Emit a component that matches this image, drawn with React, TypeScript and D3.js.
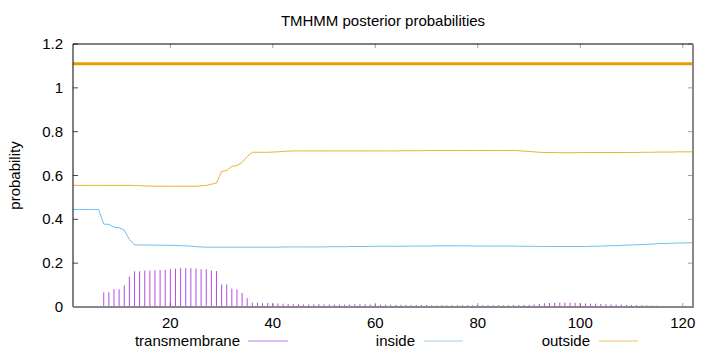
import React from "react";
import * as d3 from "d3";

const title = "TMHMM posterior probabilities";
const yTicks = [0, 0.2, 0.4, 0.6, 0.8, 1, 1.2];
const yTickLabels = ["0", "0.2", "0.4", "0.6", "0.8", "1", "1.2"];
const xTicks = [20, 40, 60, 80, 100, 120];
const seqLength = 122;
const outsideBarLevel = 1.11;

// residues 1..122
const transmembrane = [
  0, 0, 0, 0, 0, 0, 0.067, 0.067, 0.081, 0.081,
  0.098, 0.139, 0.163, 0.163, 0.166, 0.166, 0.168, 0.168, 0.17, 0.172,
  0.175, 0.177, 0.177, 0.177, 0.175, 0.173, 0.172, 0.166, 0.164, 0.103,
  0.103, 0.084, 0.08, 0.064, 0.04, 0.02, 0.02, 0.017, 0.018, 0.016,
  0.016, 0.015, 0.014, 0.013, 0.013, 0.012, 0.012, 0.013, 0.013, 0.012,
  0.012, 0.012, 0.011, 0.011, 0.012, 0.013, 0.013, 0.012, 0.012, 0.011,
  0.011, 0.011, 0.01, 0.01, 0.01, 0.01, 0.009, 0.009, 0.009, 0.009,
  0.008, 0.008, 0.008, 0.008, 0.008, 0.008, 0.008, 0.008, 0.008, 0.008,
  0.008, 0.008, 0.008, 0.008, 0.008, 0.008, 0.009, 0.009, 0.01, 0.01,
  0.012, 0.014, 0.017, 0.018, 0.019, 0.02, 0.02, 0.02, 0.019, 0.017,
  0.016, 0.015, 0.015, 0.014, 0.013, 0.012, 0.011, 0.011, 0.01, 0.009,
  0.009, 0.008, 0.008, 0.007, 0.006, 0.005, 0, 0, 0, 0,
  0, 0,
];

const inside = [
  0.445, 0.445, 0.445, 0.445, 0.445, 0.445, 0.378, 0.377, 0.364, 0.362,
  0.351, 0.308, 0.284, 0.283, 0.283, 0.283, 0.282, 0.282, 0.282, 0.281,
  0.281, 0.28, 0.279, 0.278, 0.275, 0.274, 0.273, 0.273, 0.273, 0.273,
  0.273, 0.273, 0.273, 0.273, 0.273, 0.273, 0.273, 0.273, 0.273, 0.273,
  0.273, 0.274, 0.274, 0.274, 0.274, 0.274, 0.274, 0.274, 0.274, 0.274,
  0.275, 0.275, 0.275, 0.275, 0.276, 0.276, 0.276, 0.276, 0.277, 0.277,
  0.277, 0.277, 0.277, 0.277, 0.277, 0.277, 0.278, 0.278, 0.278, 0.278,
  0.278, 0.279, 0.279, 0.279, 0.279, 0.279, 0.279, 0.279, 0.278, 0.278,
  0.278, 0.278, 0.278, 0.278, 0.278, 0.278, 0.278, 0.277, 0.277, 0.277,
  0.277, 0.276, 0.276, 0.276, 0.276, 0.276, 0.276, 0.276, 0.276, 0.276,
  0.276, 0.277, 0.277, 0.278, 0.279, 0.28, 0.28, 0.281, 0.282, 0.283,
  0.284, 0.285, 0.286, 0.287, 0.289, 0.29, 0.29, 0.291, 0.292, 0.292,
  0.293, 0.293,
];

const outside = [
  0.555, 0.555, 0.555, 0.555, 0.555, 0.555, 0.555, 0.555, 0.555, 0.555,
  0.555, 0.555, 0.554, 0.554, 0.552, 0.552, 0.551, 0.551, 0.551, 0.551,
  0.551, 0.551, 0.551, 0.551, 0.551, 0.553, 0.555, 0.56, 0.566, 0.619,
  0.623, 0.642, 0.645, 0.66, 0.686, 0.706, 0.706, 0.706, 0.706, 0.707,
  0.708, 0.71, 0.711, 0.712, 0.712, 0.712, 0.712, 0.712, 0.712, 0.712,
  0.712, 0.712, 0.712, 0.712, 0.712, 0.712, 0.712, 0.712, 0.712, 0.712,
  0.712, 0.712, 0.712, 0.712, 0.713, 0.713, 0.713, 0.713, 0.713, 0.714,
  0.714, 0.714, 0.714, 0.714, 0.714, 0.714, 0.714, 0.714, 0.714, 0.714,
  0.714, 0.714, 0.714, 0.714, 0.714, 0.714, 0.714, 0.713, 0.711, 0.71,
  0.708, 0.706, 0.705, 0.705, 0.705, 0.704, 0.704, 0.704, 0.704, 0.705,
  0.705, 0.705, 0.705, 0.705, 0.705, 0.705, 0.705, 0.705, 0.705, 0.705,
  0.705, 0.706, 0.706, 0.706, 0.707, 0.707, 0.707, 0.707, 0.708, 0.708,
  0.708, 0.708,
];

const legendLabels = ["transmembrane", "inside", "outside"];

const COLORS = {
  tm: "#9400d3",
  inside: "#56b4e9",
  outside: "#e69f00",
};

const FONT = "'Liberation Sans', Arial, Helvetica, sans-serif";
const FS = 15;

export default function App() {
  const W = 720;
  const H = 352;
  const left = 73;
  const right = 693;
  const top = 44;
  const bottom = 307;

  const x = d3.scaleLinear().domain([1, seqLength]).range([left, right]);
  const y = d3.scaleLinear().domain([0, 1.2]).range([bottom, top]);

  const residues = d3.range(1, seqLength + 1);

  const lineGen = d3
    .line<number>()
    .x((_, i) => x(residues[i]))
    .y((d) => y(d));

  const legendItems = [
    { label: legendLabels[0], color: "#c27ae6", textRight: 240, lineX1: 248, lineX2: 288 },
    { label: legendLabels[1], color: "#9fd2ef", textRight: 415, lineX1: 424, lineX2: 463 },
    { label: legendLabels[2], color: "#f0c46a", textRight: 590, lineX1: 599, lineX2: 638 },
  ];

  return (
    <svg
      width={W}
      height={H}
      style={{ position: "absolute", left: 0, top: 0, background: "#fff" }}
      fontFamily={FONT}
    >
      <rect x={0} y={0} width={W} height={H} fill="#fff" />

      {/* title */}
      <text x={383} y={26} textAnchor="middle" fontSize={FS} fill="#000">
        {title}
      </text>

      {/* y label */}
      <text
        transform={`translate(19.5,${(top + bottom) / 2}) rotate(-90)`}
        textAnchor="middle"
        fontSize={FS}
        fill="#000"
      >
        probability
      </text>

      {/* y ticks */}
      {yTicks.map((t, i) => (
        <g key={"yt" + i}>
          <line x1={left} x2={left + 5} y1={y(t)} y2={y(t)} stroke="#000" strokeWidth={0.7} />
          <line x1={right - 5} x2={right} y1={y(t)} y2={y(t)} stroke="#777" strokeWidth={0.7} />
          <text x={63} y={y(t) + 5} textAnchor="end" fontSize={FS} fill="#000">
            {yTickLabels[i]}
          </text>
        </g>
      ))}

      {/* x ticks */}
      {xTicks.map((t) => (
        <g key={"xt" + t}>
          <line x1={x(t)} x2={x(t)} y1={top} y2={top + 4} stroke="#777" strokeWidth={0.7} />
          <line x1={x(t)} x2={x(t)} y1={bottom - 4} y2={bottom} stroke="#777" strokeWidth={0.7} />
          <text x={x(t)} y={328} textAnchor="middle" fontSize={FS} fill="#000">
            {t}
          </text>
        </g>
      ))}

      {/* transmembrane impulses */}
      {transmembrane.map((v, i) =>
        v > 0 ? (
          <line
            key={"imp" + i}
            x1={x(residues[i])}
            x2={x(residues[i])}
            y1={y(0)}
            y2={y(v)}
            stroke={COLORS.tm}
            strokeOpacity={0.7}
            strokeWidth={1}
          />
        ) : null
      )}

      {/* inside line */}
      <path d={lineGen(inside) || ""} fill="none" stroke={COLORS.inside} strokeOpacity={0.85} strokeWidth={1} />
      {/* outside line */}
      <path d={lineGen(outside) || ""} fill="none" stroke={COLORS.outside} strokeOpacity={0.8} strokeWidth={1} />

      {/* predicted topology bar: outside */}
      <line
        x1={left}
        x2={right}
        y1={y(outsideBarLevel)}
        y2={y(outsideBarLevel)}
        stroke={COLORS.outside}
        strokeWidth={3}
      />

      {/* borders */}
      <line x1={left} x2={right} y1={top} y2={top} stroke="#000" strokeWidth={1} />
      <line x1={left} x2={left} y1={top} y2={bottom} stroke="#000" strokeWidth={1} />
      <line x1={left} x2={right + 1} y1={bottom} y2={bottom} stroke="#888" strokeWidth={2} />
      <line x1={right} x2={right} y1={top} y2={bottom} stroke="#888" strokeWidth={2} />

      {/* legend */}
      {legendItems.map((it) => (
        <g key={it.label}>
          <text x={it.textRight} y={346} textAnchor="end" fontSize={FS} fill="#000">
            {it.label}
          </text>
          <line x1={it.lineX1} x2={it.lineX2} y1={341} y2={341} stroke={it.color} strokeWidth={1} />
        </g>
      ))}
    </svg>
  );
}
